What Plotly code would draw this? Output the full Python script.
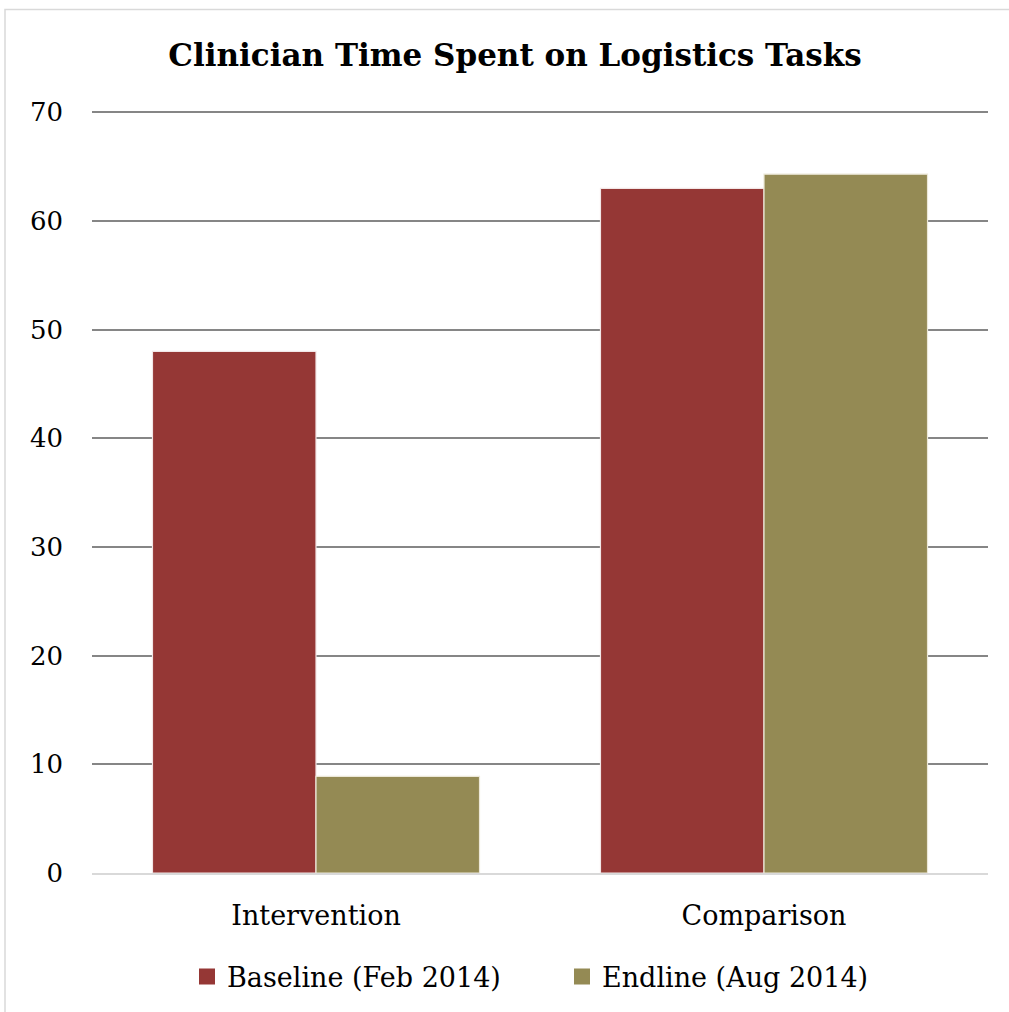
import plotly.graph_objects as go

categories = ["Intervention", "Comparison"]
baseline = [48.0, 63.0]
endline = [8.9, 64.3]
series_names = ["Baseline (Feb 2014)", "Endline (Aug 2014)"]
colors = ["#953735", "#948A54"]
y_ticks = [0, 10, 20, 30, 40, 50, 60, 70]

W, H = 1009, 1012
ml, mr, mt, mb = 92, 21, 109, 139
pw = W - ml - mr
ph = H - mt - mb

serif = "DejaVu Serif"

fig = go.Figure()
fig.add_trace(go.Bar(x=categories, y=baseline, name=series_names[0], showlegend=False,
                     marker=dict(color=colors[0], line=dict(color="#f2e6e6", width=1.2))))
fig.add_trace(go.Bar(x=categories, y=endline, name=series_names[1], showlegend=False,
                     marker=dict(color=colors[1], line=dict(color="#ece8d8", width=1.2))))
# legend entries with square swatches
for name, c in zip(series_names, colors):
    fig.add_trace(go.Scatter(x=[None], y=[None], mode="markers", name=name,
                             marker=dict(symbol="square", size=16, color=c),
                             showlegend=True, hoverinfo="skip"))

# outer chart border (light gray), partly cut off at right/bottom
fig.add_shape(type="rect", xref="paper", yref="paper",
              x0=(5 - ml) / pw, x1=(W + 20 - ml) / pw,
              y0=(H - mb - (H + 20)) / ph, y1=(H - mb - 9.5) / ph,
              line=dict(color="#d9d9d9", width=1.5), fillcolor="rgba(0,0,0,0)", layer="below")

fig.update_layout(
    width=W, height=H,
    margin=dict(l=ml, r=mr, t=mt, b=mb, autoexpand=False),
    paper_bgcolor="white", plot_bgcolor="white",
    barmode="group", bargap=0.27, bargroupgap=0,
    title=dict(text="<b>Clinician Time Spent on Logistics Tasks</b>",
               x=515 / W, xanchor="center", y=1 - 55 / H, yanchor="middle",
               font=dict(family=serif, size=31, color="black")),
    font=dict(family=serif, size=26, color="black"),
    legend=dict(orientation="h", x=(562 - ml) / pw, xanchor="center",
                y=(H - mb - 977) / ph, yanchor="middle",
                font=dict(family=serif, size=27, color="black"),
                itemwidth=30, traceorder="normal", tracegroupgap=0,
                entrywidth=330, entrywidthmode="pixels"),
    showlegend=True,
)
fig.update_yaxes(range=[0, 70.3], tickvals=y_ticks, ticktext=[str(v) for v in y_ticks],
                 showgrid=True, gridcolor="#868686", gridwidth=1.5,
                 zeroline=False, showline=False, ticks="",
                 ticklabelstandoff=28,
                 tickfont=dict(family=serif, size=26, color="black"))
fig.update_xaxes(showgrid=False, showline=True, linecolor="#d9d9d9", linewidth=1.5,
                 ticks="", ticklabelstandoff=18,
                 tickfont=dict(family=serif, size=27, color="black"))

fig.write_html("out.html", config={"displayModeBar": False},
               post_script="document.body.style.margin='0px';")
